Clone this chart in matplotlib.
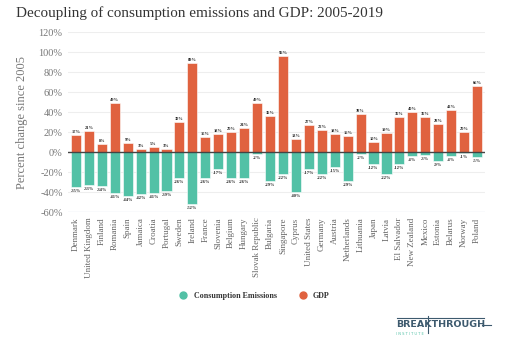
import matplotlib
matplotlib.use("Agg")
import matplotlib.pyplot as plt
import numpy as np

# ---- data ----
countries = ["Denmark", "United Kingdom", "Finland", "Romania", "Spain", "Jamaica",
             "Croatia", "Portugal", "Sweden", "Ireland", "France", "Slovenia",
             "Belgium", "Hungary", "Slovak Republic", "Bulgaria", "Singapore",
             "Cyprus", "United States", "Germany", "Austria", "Netherlands",
             "Lithuania", "Japan", "Latvia", "El Salvador", "New Zealand",
             "Mexico", "Estonia", "Belarus", "Norway", "Poland"]
gdp = [17, 21, 8, 49, 9, 3, 5, 3, 30, 89, 15, 18, 20, 24, 49, 36, 96, 13,
       27, 22, 18, 16, 38, 10, 19, 35, 40, 35, 28, 42, 20, 66]
emissions = [-35, -33, -34, -41, -44, -42, -41, -39, -26, -52, -26, -17, -26, -26,
             -2, -29, -22, -40, -17, -22, -15, -29, -2, -12, -22, -12, -4, -3,
             -9, -4, -1, -5]
yticks = [-60, -40, -20, 0, 20, 40, 60, 80, 100, 120]

GDP_COL = "#E0623F"
EM_COL = "#52C1A6"
LOGO_COL = "#3d5a6e"
SERIF = "Liberation Serif"

fig = plt.figure(figsize=(5.05, 3.42), dpi=100)
ax = fig.add_axes([0.135, 0.380, 0.825, 0.526])

x = np.arange(len(countries))
ax.bar(x, gdp, width=0.78, color=GDP_COL, edgecolor="white", lw=0.4, zorder=2)
ax.bar(x, emissions, width=0.78, color=EM_COL, edgecolor="white", lw=0.4, zorder=2)
ax.axhline(0, color="#444444", lw=1.0, zorder=3)

for xi, g, e in zip(x, gdp, emissions):
    ax.text(xi, g + 1.5, f"{g}%", ha="center", va="bottom", fontsize=3.2,
            fontweight="bold", family=SERIF, color="#222222")
    ax.text(xi, e - 1.5, f"{e}%", ha="center", va="top", fontsize=3.2,
            fontweight="bold", family=SERIF, color="#222222")

ax.set_xlim(-0.6, len(countries) - 0.4)
ax.set_ylim(-60, 120)
ax.set_yticks(yticks)
ax.set_yticklabels([f"{t}%" for t in yticks], family=SERIF, fontsize=7.5,
                   color="#777777")
ax.set_xticks(x)
ax.set_xticklabels(countries, rotation=90, family=SERIF, fontsize=6.5,
                   color="#666666")
ax.tick_params(length=0, pad=4)
ax.yaxis.grid(True, color="#eeeeee", lw=0.8, zorder=0)
ax.set_axisbelow(True)
for s in ax.spines.values():
    s.set_visible(False)
ax.axhline(-60, color="#dde3ef", lw=0.9, zorder=1)

ax.set_ylabel("Percent change since 2005", family=SERIF, fontsize=9,
              color="#777777", labelpad=8)

fig.text(0.032, 0.962, "Decoupling of consumption emissions and GDP: 2005-2019",
         family=SERIF, fontsize=10.9, color="#333333", va="center")

# legend
leg_handles = [plt.Line2D([], [], marker="o", ls="", color=EM_COL, markersize=5),
               plt.Line2D([], [], marker="o", ls="", color=GDP_COL, markersize=5)]
leg = fig.legend(leg_handles, ["Consumption Emissions", "GDP"], loc="center",
                 bbox_to_anchor=(0.50, 0.135), ncol=2, frameon=False,
                 prop={"family": SERIF, "size": 5.8, "weight": "bold"},
                 handletextpad=0.3, columnspacing=2.2)
for t in leg.get_texts():
    t.set_color("#333333")

# logo
fig.text(0.784, 0.050, "BREAKTHROUGH", family="DejaVu Sans", fontsize=6.8,
         color=LOGO_COL, ha="left", va="center", fontweight="bold")
fig.text(0.784, 0.022, "I N S T I T U T E", family="DejaVu Sans", fontsize=2.6,
         color=EM_COL, ha="left", va="center")
fig.add_artist(plt.Line2D([0.786, 0.958], [0.071, 0.071], color=LOGO_COL, lw=0.8))
fig.add_artist(plt.Line2D([0.848, 0.848], [0.026, 0.077], color=LOGO_COL, lw=0.8))
fig.add_artist(plt.Line2D([0.955, 0.972], [0.050, 0.050], color=LOGO_COL, lw=0.8))

fig.savefig("out.png", dpi=100)
